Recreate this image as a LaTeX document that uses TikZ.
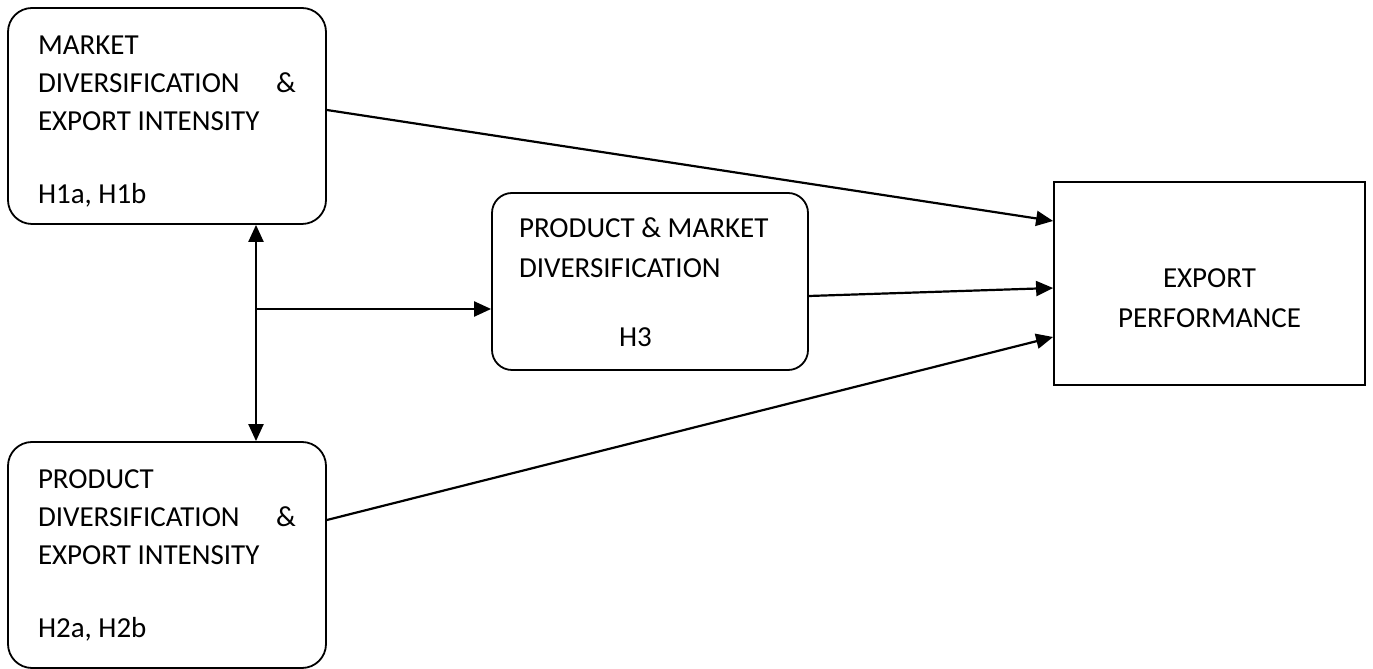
\documentclass[tikz,border=0pt]{standalone}
\usepackage{fontspec}
\setmainfont{Carlito}
\usetikzlibrary{arrows.meta}

\begin{document}
\begin{tikzpicture}[x=1pt,y=1pt,
  every node/.style={font=\fontsize{29}{38}\selectfont},
  box/.style={draw,line width=1.8pt,rounded corners=24pt,align=flush left,inner xsep=30pt,inner ysep=0pt},
  arr/.style={line width=2.2pt,>={Triangle[length=17pt,width=15pt]}}]
  \useasboundingbox (0,0) rectangle (1373,669);
  % boxes
  \node[box,minimum width=318pt,minimum height=216pt,text width=258pt] (mdei) at (167,553)
    {\rule{0pt}{30pt}MARKET\\DIVERSIFICATION\hfill\&\\EXPORT INTENSITY\\[35pt]H1a, H1b};
  \node[box,minimum width=318pt,minimum height=226pt,text width=258pt] (pdei) at (167,114)
    {PRODUCT\\DIVERSIFICATION\hfill\&\\EXPORT INTENSITY\\[35pt]H2a, H2b};
  \node[box,rounded corners=20pt,inner xsep=27pt,minimum width=316pt,minimum height=177pt,text width=262pt,
    font=\fontsize{29}{40}\selectfont] (pmd) at (650,387.5)
    {\rule{0pt}{22pt}PRODUCT \& MARKET\\DIVERSIFICATION\\[29pt]\hspace*{100pt}H3};
  \node[draw,line width=1.8pt,minimum width=311pt,minimum height=203pt,align=center,
    font=\fontsize{29}{40}\selectfont] (perf) at (1209.5,385.5)
    {\rule{0pt}{49pt}EXPORT\\PERFORMANCE};
  % arrows
  \coordinate (split) at (256,360);
  \draw[arr,<->] (mdei.south -| split) -- (pdei.north -| split);
  \draw[arr,->] (split) -- (pmd.west |- split);
  \draw[arr,->] ([yshift=6pt]mdei.east) -- ([yshift=62.5pt]perf.west);
  \draw[arr,->] ([yshift=-14.5pt]pmd.east) -- ([yshift=-4.5pt]perf.west);
  \draw[arr,->] ([yshift=35pt]pdei.east) -- ([yshift=-53.5pt]perf.west);
\end{tikzpicture}
\end{document}
